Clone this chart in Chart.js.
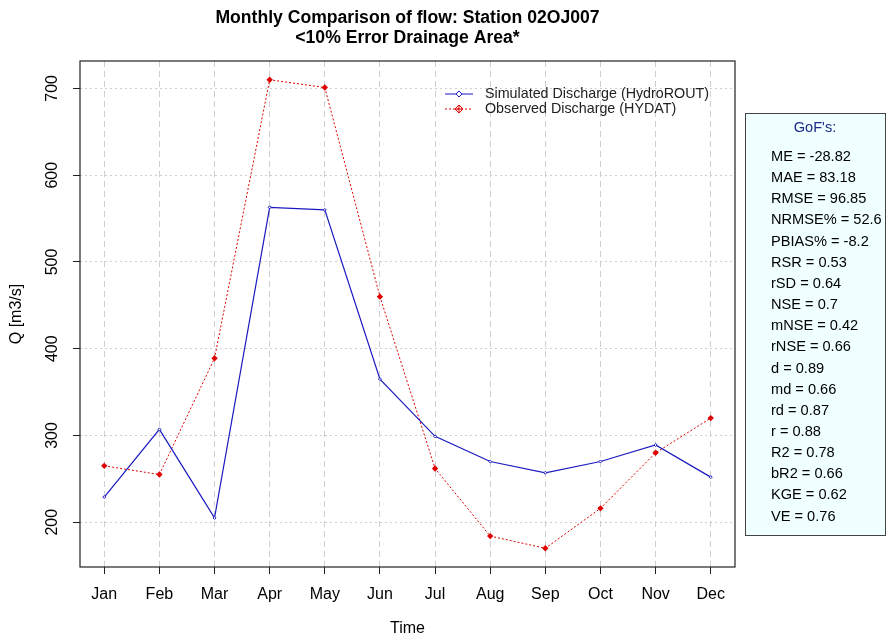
<!DOCTYPE html>
<html>
<head>
<meta charset="utf-8">
<script src="https://cdn.jsdelivr.net/npm/chart.js@4.4.0/dist/chart.umd.min.js"></script>
<style>
  html, body { margin: 0; padding: 0; background: #fff; }
  canvas { display: block; }
</style>
</head>
<body>
<canvas id="flowChart" width="886" height="639"></canvas>
<script>
// data
const months = ['Jan', 'Feb', 'Mar', 'Apr', 'May', 'Jun', 'Jul', 'Aug', 'Sep', 'Oct', 'Nov', 'Dec'];
const simulated = [229, 307, 205, 563, 560, 365, 299, 270, 257, 270, 289, 252];
const observed = [265, 255, 389, 710, 701, 460, 262, 184, 170, 216, 280, 320];
const yTicks = [200, 300, 400, 500, 600, 700];

const gofNames = ['ME', 'MAE', 'RMSE', 'NRMSE%', 'PBIAS%', 'RSR', 'rSD', 'NSE', 'mNSE', 'rNSE', 'd', 'md', 'rd', 'r', 'R2', 'bR2', 'KGE', 'VE'];
const gofValues = [-28.82, 83.18, 96.85, 52.6, -8.2, 0.53, 0.64, 0.7, 0.42, 0.66, 0.89, 0.66, 0.87, 0.88, 0.78, 0.66, 0.62, 0.76];

const titleLines = ['Monthly Comparison of flow: Station 02OJ007', '<10% Error Drainage Area*'];
const seriesNames = ['Simulated Discharge (HydroROUT)', 'Observed Discharge (HYDAT)'];

const FONT = "'Liberation Sans', Arial, sans-serif";
const BLUE = '#1a1ac0';
const RED = '#e00000';

// R-like extra bits: box, tick labels, titles, legend, GoF panel
const extras = {
    id: 'extras',
    afterDraw(chart) {
        const ctx = chart.ctx;
        const a = chart.chartArea;
        const xs = chart.scales.x;
        const ys = chart.scales.y;
        ctx.save();

        // plot box
        ctx.strokeStyle = '#222';
        ctx.lineWidth = 1.2;
        ctx.strokeRect(a.left, a.top, a.right - a.left, a.bottom - a.top);

        ctx.fillStyle = '#000';
        ctx.font = '16px ' + FONT;
        ctx.textAlign = 'center';
        ctx.textBaseline = 'middle';

        // x labels
        months.forEach((m, i) => {
            ctx.fillText(m, xs.getPixelForValue(i + 1), a.bottom + 28);
        });
        ctx.fillText('Time', (a.left + a.right) / 2, a.bottom + 62);

        // y labels, rotated like R
        yTicks.forEach(v => {
            ctx.save();
            ctx.translate(a.left - 27, ys.getPixelForValue(v));
            ctx.rotate(-Math.PI / 2);
            ctx.fillText(String(v), 0, 0);
            ctx.restore();
        });
        ctx.save();
        ctx.translate(17, (a.top + a.bottom) / 2);
        ctx.rotate(-Math.PI / 2);
        ctx.fillText('Q [m3/s]', 0, 0);
        ctx.restore();

        // title
        ctx.font = 'bold 17.6px ' + FONT;
        ctx.fillText(titleLines[0], (a.left + a.right) / 2, 18);
        ctx.fillText(titleLines[1], (a.left + a.right) / 2, 38);

        // legend
        ctx.font = '14.3px ' + FONT;
        ctx.textAlign = 'left';
        const lx = 445, ly = [94, 109];
        ctx.lineWidth = 1;
        ctx.strokeStyle = BLUE;
        ctx.beginPath(); ctx.moveTo(lx, ly[0]); ctx.lineTo(lx + 28, ly[0]); ctx.stroke();
        ctx.fillStyle = '#fff';
        ctx.beginPath();
        ctx.moveTo(lx + 14, ly[0] - 3); ctx.lineTo(lx + 17, ly[0]); ctx.lineTo(lx + 14, ly[0] + 3); ctx.lineTo(lx + 11, ly[0]);
        ctx.closePath(); ctx.fill(); ctx.stroke();

        ctx.strokeStyle = RED;
        ctx.setLineDash([2, 2]);
        ctx.beginPath(); ctx.moveTo(lx, ly[1]); ctx.lineTo(lx + 28, ly[1]); ctx.stroke();
        ctx.setLineDash([]);
        ctx.beginPath();
        ctx.moveTo(lx + 14, ly[1] - 4); ctx.lineTo(lx + 18, ly[1]); ctx.lineTo(lx + 14, ly[1] + 4); ctx.lineTo(lx + 10, ly[1]);
        ctx.closePath(); ctx.stroke();
        ctx.beginPath();
        ctx.moveTo(lx + 14, ly[1] - 4); ctx.lineTo(lx + 14, ly[1] + 4);
        ctx.moveTo(lx + 10, ly[1]); ctx.lineTo(lx + 18, ly[1]);
        ctx.stroke();

        ctx.fillStyle = '#222';
        ctx.fillText(seriesNames[0], lx + 40, ly[0]);
        ctx.fillText(seriesNames[1], lx + 40, ly[1]);

        // GoF panel
        const bx = 745, by = 113, bw = 140, bh = 422;
        ctx.fillStyle = '#f0ffff';
        ctx.fillRect(bx, by, bw, bh);
        ctx.strokeStyle = '#444';
        ctx.lineWidth = 1;
        ctx.strokeRect(bx + 0.5, by + 0.5, bw, bh);
        ctx.font = '14.6px ' + FONT;
        ctx.textAlign = 'center';
        ctx.fillStyle = '#1c2a8c';
        ctx.fillText("GoF's:", bx + 70, by + 15);
        ctx.textAlign = 'left';
        ctx.fillStyle = '#000';
        gofNames.forEach((n, i) => {
            ctx.fillText(n + ' = ' + gofValues[i], bx + 26, by + 44 + i * 21.15);
        });

        ctx.restore();
    }
};

new Chart(document.getElementById('flowChart'), {
    type: 'line',
    data: {
        datasets: [
            {
                label: seriesNames[0],
                data: simulated.map((v, i) => ({ x: i + 1, y: v })),
                borderColor: BLUE,
                borderWidth: 1.2,
                pointStyle: 'rectRot',
                pointRadius: 1.5,
                pointBackgroundColor: '#fff',
                pointBorderColor: BLUE,
                pointBorderWidth: 1,
                tension: 0
            },
            {
                label: seriesNames[1],
                data: observed.map((v, i) => ({ x: i + 1, y: v })),
                borderColor: RED,
                borderWidth: 1,
                borderDash: [2, 2],
                pointStyle: 'rectRot',
                pointRadius: 3.2,
                pointBackgroundColor: RED,
                pointBorderColor: RED,
                pointBorderWidth: 0,
                tension: 0
            }
        ]
    },
    options: {
        responsive: false,
        animation: false,
        devicePixelRatio: 1,
        layout: { padding: { left: 73, top: 61, right: 151, bottom: 65 } },
        plugins: {
            legend: { display: false },
            title: { display: false },
            tooltip: { enabled: false }
        },
        scales: {
            x: {
                type: 'linear',
                min: 0.56,
                max: 12.44,
                afterBuildTicks: s => { s.ticks = months.map((m, i) => ({ value: i + 1 })); },
                ticks: { display: false },
                grid: {
                    color: '#cfcfcf',
                    lineWidth: 1,
                    drawTicks: true,
                    tickLength: 7,
                    tickColor: '#222',
                    tickWidth: 1,
                    tickBorderDash: []
                },
                border: { display: false, dash: [6, 4] }
            },
            y: {
                type: 'linear',
                min: 148.4,
                max: 731.6,
                afterBuildTicks: s => { s.ticks = yTicks.map(v => ({ value: v })); },
                ticks: { display: false },
                grid: {
                    color: '#cfcfcf',
                    lineWidth: 1,
                    drawTicks: true,
                    tickLength: 7,
                    tickColor: '#222',
                    tickWidth: 1,
                    tickBorderDash: []
                },
                border: { display: false, dash: [2, 3] }
            }
        }
    },
    plugins: [extras]
});
</script>
</body>
</html>
